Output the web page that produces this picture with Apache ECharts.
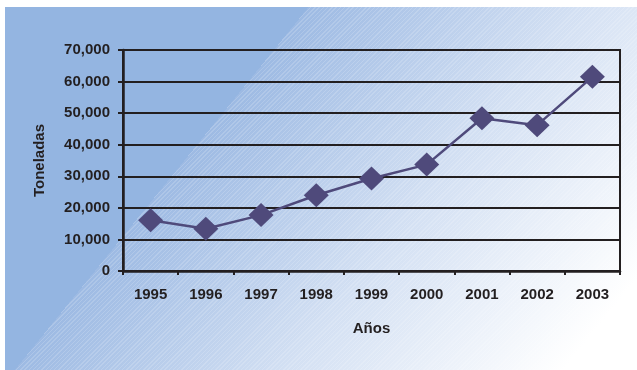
<!DOCTYPE html>
<html>
<head>
<meta charset="utf-8">
<script src="https://cdn.jsdelivr.net/npm/echarts@6/dist/echarts.min.js"></script>
<style>
  html, body { margin: 0; padding: 0; background: #ffffff; }
  #wrap { position: relative; width: 637px; height: 370px; overflow: hidden; }
  /* blue panel: solid corner, then a hatched fade towards white */
  #panel {
    position: absolute; left: 5px; top: 7px; width: 632px; height: 363px;
    background:
      linear-gradient(129deg, #94b5e1 0%, #94b5e1 32.8%, rgba(148,181,225,0) 32.8%),
      repeating-linear-gradient(135deg, rgba(255,255,255,0.16) 0px, rgba(255,255,255,0.16) 1px, rgba(255,255,255,0) 1px, rgba(255,255,255,0) 3px),
      linear-gradient(129deg, #9dbae3 32.8%, #d3e0f3 62%, #ffffff 92%);
  }
  #chart { position: absolute; left: 0; top: 0; width: 637px; height: 370px; }
</style>
</head>
<body>
<div id="wrap">
  <div id="panel"></div>
  <div id="chart"></div>
</div>
<script>
// Annual tonnage, 1995-2003
const years = ['1995', '1996', '1997', '1998', '1999', '2000', '2001', '2002', '2003'];
const tonnes = [16100, 13400, 17700, 24000, 29300, 33700, 48400, 46200, 61500];
const yTicks = { min: 0, max: 70000, step: 10000 };
const xName = 'Años';
const yName = 'Toneladas';

const ink = '#231f20';
const font = 'Liberation Sans, Arial, sans-serif';

const chart = echarts.init(document.getElementById('chart'), null, { renderer: 'canvas' });
chart.setOption({
  backgroundColor: 'transparent',
  animation: false,
  grid: {
    left: 123, top: 50, right: 17, bottom: 99,
    show: true, borderColor: ink, borderWidth: 2, backgroundColor: 'transparent'
  },
  xAxis: {
    type: 'category',
    data: years,
    boundaryGap: true,
    name: xName,
    nameLocation: 'middle',
    nameGap: 50,
    nameTextStyle: { color: ink, fontFamily: font, fontWeight: 'bold', fontSize: 15 },
    axisLine: { lineStyle: { color: ink, width: 2.5 } },
    axisTick: { show: true, alignWithLabel: false, length: 4, lineStyle: { color: ink, width: 2 } },
    axisLabel: { color: ink, fontFamily: font, fontWeight: 'bold', fontSize: 15, margin: 16 },
    splitLine: { show: false }
  },
  yAxis: {
    type: 'value',
    min: yTicks.min,
    max: yTicks.max,
    interval: yTicks.step,
    name: yName,
    nameLocation: 'middle',
    nameGap: 76,
    nameRotate: 90,
    nameTextStyle: { color: ink, fontFamily: font, fontWeight: 'bold', fontSize: 15 },
    axisLine: { show: true, lineStyle: { color: ink, width: 2.5 } },
    axisTick: { show: true, length: 5, lineStyle: { color: ink, width: 2 } },
    axisLabel: {
      color: ink, fontFamily: font, fontWeight: 'bold', fontSize: 15, margin: 13,
      formatter: v => v.toLocaleString('en-US')
    },
    splitLine: { show: true, lineStyle: { color: ink, width: 2 } }
  },
  series: [{
    type: 'line',
    data: tonnes,
    symbol: 'diamond',
    symbolSize: [25, 24],
    itemStyle: { color: '#4f4a7b' },
    lineStyle: { color: '#4f4a7b', width: 2.5 },
    z: 3
  }]
});
</script>
</body>
</html>
